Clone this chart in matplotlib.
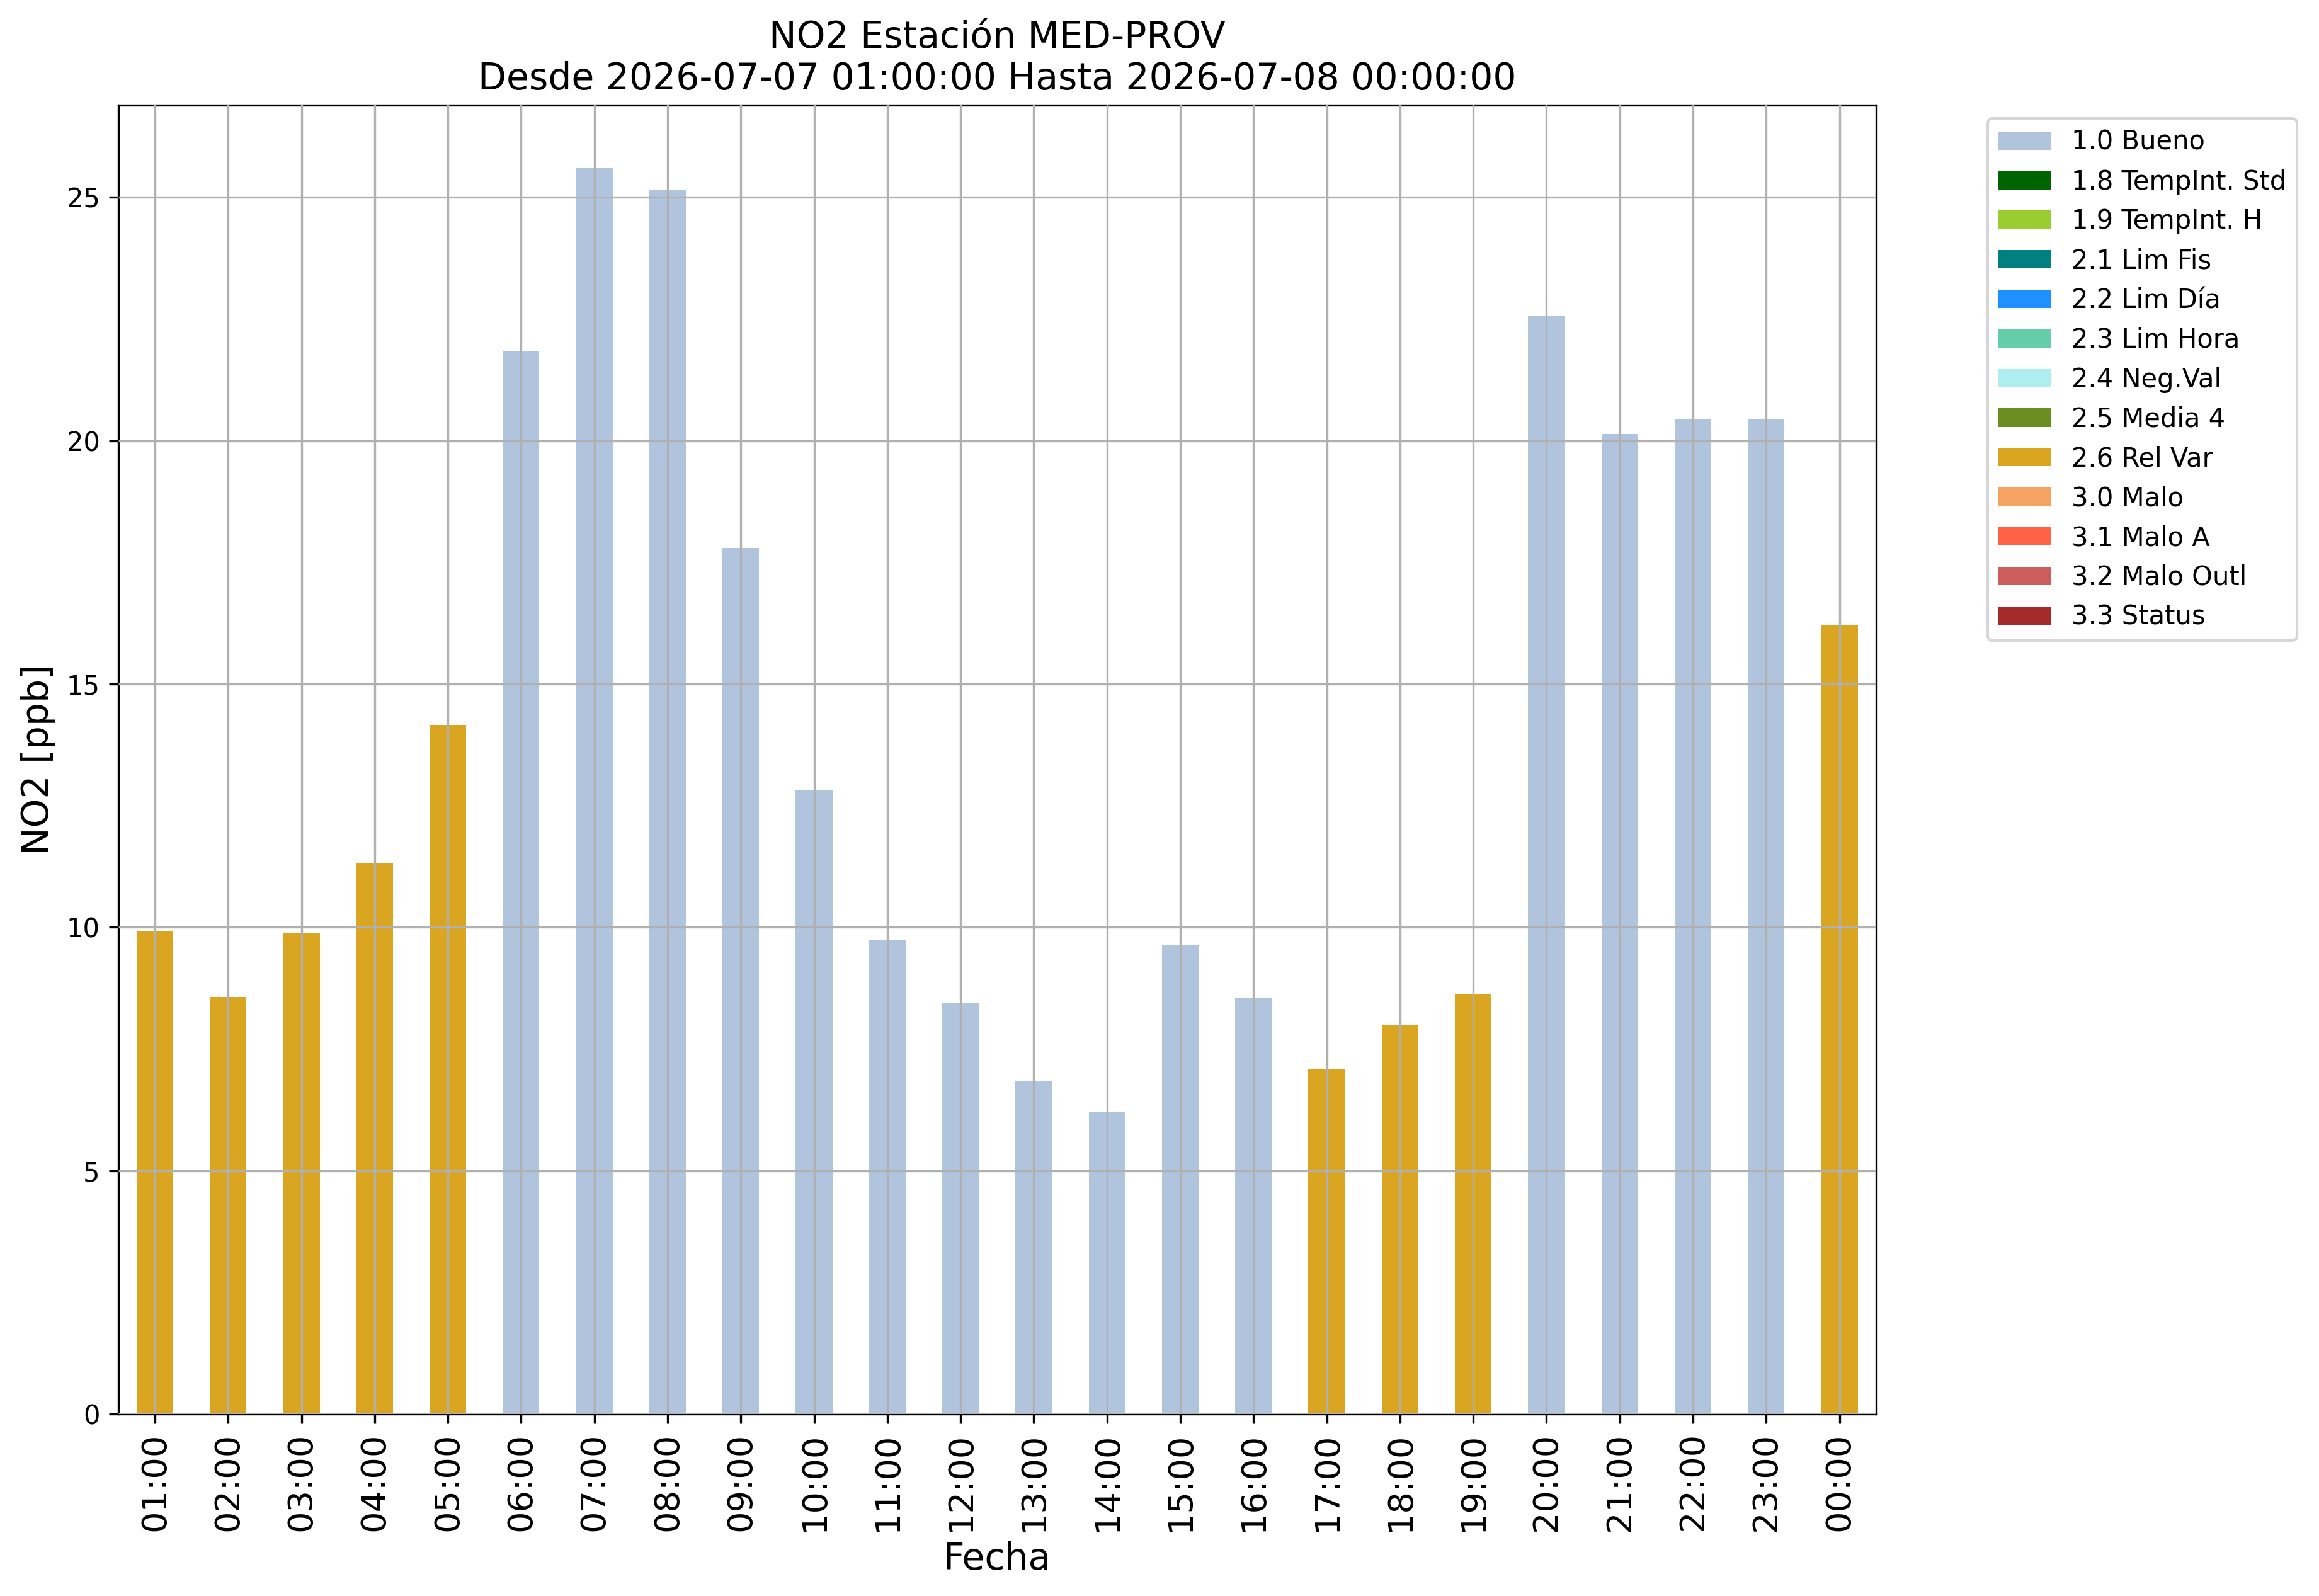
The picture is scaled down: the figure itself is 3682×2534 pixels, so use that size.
import matplotlib
matplotlib.use('Agg')
import matplotlib.pyplot as plt
from matplotlib.patches import Patch

# hourly NO2 values and quality flag per hour
horas = ['01:00', '02:00', '03:00', '04:00', '05:00', '06:00', '07:00', '08:00',
         '09:00', '10:00', '11:00', '12:00', '13:00', '14:00', '15:00', '16:00',
         '17:00', '18:00', '19:00', '20:00', '21:00', '22:00', '23:00', '00:00']
no2 = [9.93, 8.57, 9.87, 11.33, 14.16, 21.84, 25.61, 25.15,
       17.80, 12.82, 9.75, 8.44, 6.83, 6.20, 9.63, 8.54,
       7.08, 7.99, 8.63, 22.57, 20.14, 20.44, 20.44, 16.22]
flags = ['2.6', '2.6', '2.6', '2.6', '2.6', '1.0', '1.0', '1.0',
         '1.0', '1.0', '1.0', '1.0', '1.0', '1.0', '1.0', '1.0',
         '2.6', '2.6', '2.6', '1.0', '1.0', '1.0', '1.0', '2.6']

# legend categories
flag_codes = ['1.0', '1.8', '1.9', '2.1', '2.2', '2.3', '2.4', '2.5',
              '2.6', '3.0', '3.1', '3.2', '3.3']
flag_names = ['1.0 Bueno', '1.8 TempInt. Std', '1.9 TempInt. H', '2.1 Lim Fis',
              '2.2 Lim Día', '2.3 Lim Hora', '2.4 Neg.Val', '2.5 Media 4',
              '2.6 Rel Var', '3.0 Malo', '3.1 Malo A', '3.2 Malo Outl', '3.3 Status']
flag_colors = ['lightsteelblue', 'darkgreen', 'yellowgreen', 'teal',
               'dodgerblue', 'mediumaquamarine', 'paleturquoise', 'olivedrab',
               'goldenrod', 'sandybrown', 'tomato', 'indianred', 'brown']

color_map = dict(zip(flag_codes, flag_colors))
bar_colors = [color_map[f] for f in flags]

fig = plt.figure(figsize=(3682 / 300, 2534 / 300), dpi=300)
ax = fig.add_subplot(111)
fig.subplots_adjust(left=0.051, right=0.809, top=0.934, bottom=0.114)

x = range(len(horas))
ax.bar(x, no2, width=0.5, color=bar_colors)
ax.set_xlim(-0.5, len(horas) - 0.5)
ax.set_xticks(list(x))
ax.set_xticklabels(horas, rotation=90, fontsize=13)
ax.tick_params(axis='y', labelsize=10)
# grid drawn on top of the bars, like the original
ax.set_axisbelow(False)
ax.grid(True, color='#b0b0b0', linewidth=0.8)

ax.set_title('NO2 Estación MED-PROV\nDesde 2026-07-07 01:00:00 Hasta 2026-07-08 00:00:00',
             fontsize=14)
ax.set_xlabel('Fecha', fontsize=14)
ax.set_ylabel('NO2 [ppb]', fontsize=14)

handles = [Patch(facecolor=c, label=n) for c, n in zip(flag_colors, flag_names)]
ax.legend(handles=handles, bbox_to_anchor=(1.056, 1), loc='upper left', fontsize=10)

fig.savefig('out.png', dpi=300)
